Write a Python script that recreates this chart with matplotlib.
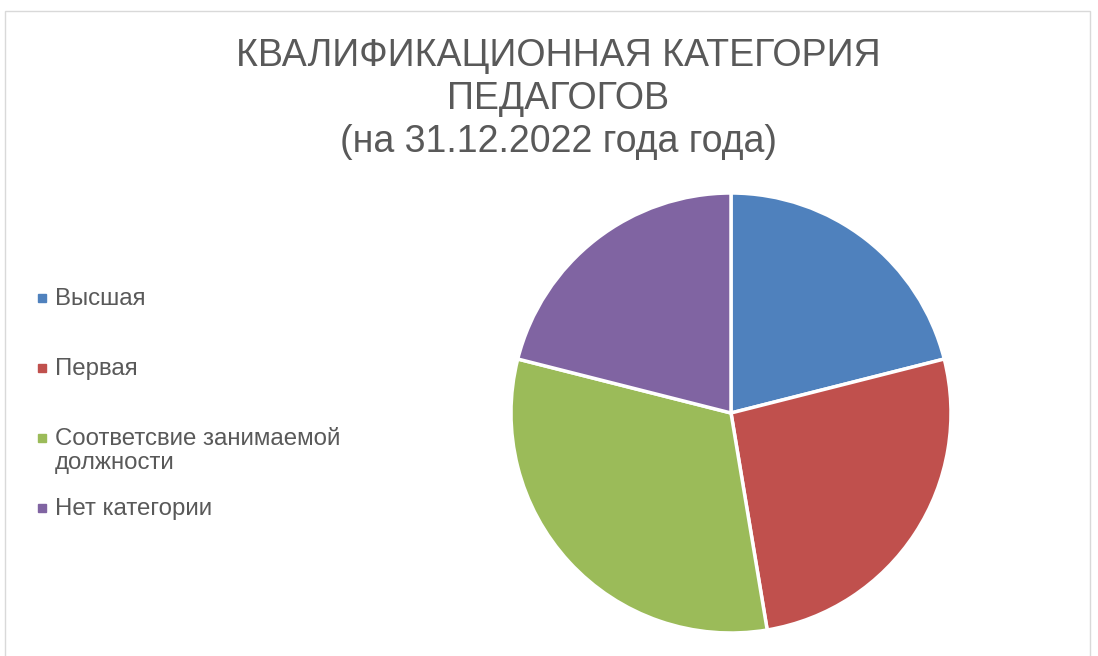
import matplotlib.pyplot as plt
from matplotlib.patches import Rectangle
from matplotlib.lines import Line2D

# data
categories = ['Высшая', 'Первая', 'Соответсвие занимаемой\nдолжности', 'Нет категории']
values = [8, 10, 12, 8]
colors = ['#4F81BD', '#C0504D', '#9BBB59', '#8064A2']
title = 'КВАЛИФИКАЦИОННАЯ КАТЕГОРИЯ\nПЕДАГОГОВ\n(на 31.12.2022 года года)'

W, H = 1098, 656
fig = plt.figure(figsize=(W / 100, H / 100), dpi=100)
fig.patch.set_facecolor('white')

# chart area border
fig.add_artist(Rectangle((5 / W, -0.05), (1090 - 5) / W, 1.05 - 11 / H,
                         transform=fig.transFigure, fill=False,
                         edgecolor='#d9d9d9', linewidth=1))

# pie
cx, cy, r = 731, 243, 220
ax = fig.add_axes([(cx - r) / W, (cy - r) / H, 2 * r / W, 2 * r / H])
ax.pie(values, colors=colors, startangle=90, counterclock=False, radius=1,
       wedgeprops=dict(edgecolor='white', linewidth=2.5))
ax.set_xlim(-1, 1)
ax.set_ylim(-1, 1)
ax.set_aspect('equal')
ax.axis('off')

# title
fig.text(558 / W, 1 - 38 / H, title, ha='center', va='top', fontsize=27,
         color='#595959', linespacing=1.25,
         family=['Liberation Sans Narrow', 'Liberation Sans', 'DejaVu Sans'])

# legend (Excel style: equal slots, text top-aligned)
slot = 70
y0 = 298
for i, (lab, col) in enumerate(zip(categories, colors)):
    y = 1 - (y0 + i * slot) / H
    fig.add_artist(Line2D([42 / W], [y], marker='s', markersize=5.5,
                          color=col, linestyle='none',
                          transform=fig.transFigure))
    fig.text(55 / W, y + 10 / H, lab, ha='left', va='top', fontsize=17.3,
             color='#595959', linespacing=1.1,
             family=['Liberation Sans', 'DejaVu Sans'])

fig.savefig('out.png', dpi=100)
